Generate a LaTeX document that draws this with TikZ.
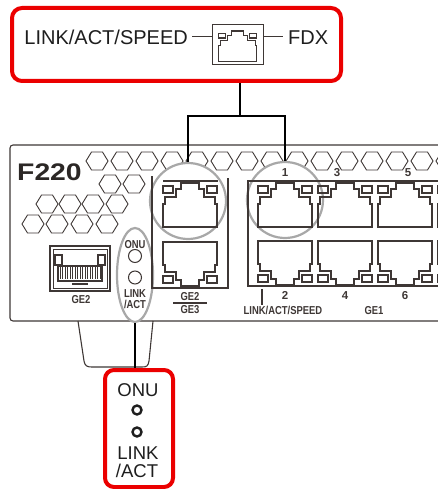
\documentclass[tikz,border=0pt]{standalone}
\usepackage{graphicx}
\usepackage{fontspec}
\setmainfont{Liberation Sans}
\usetikzlibrary{shapes.geometric}
\definecolor{hlred}{RGB}{235,0,0}
\definecolor{devc}{RGB}{62,55,53}
\definecolor{ringc}{RGB}{168,168,168}
\definecolor{txtc}{RGB}{30,30,30}
\newcommand{\narrowtxt}[1]{\scalebox{0.82}[1]{#1}}
\tikzset{
  redbox/.style={draw=hlred,line width=4pt,rounded corners=10pt,fill=white,inner sep=0pt},
  devline/.style={draw=devc,line width=1.1pt},
  conn/.style={draw=black,line width=2pt},
  ring/.style={draw=ringc,line width=2.2pt,fill=white,inner sep=0pt},
  bigtxt/.style={font=\fontsize{20}{24}\selectfont,inner sep=0pt,text=txtc},
  boxtxt/.style={font=\fontsize{18.5}{22}\selectfont,inner sep=0pt,text=txtc},
  lbl/.style={font=\bfseries\fontsize{11.5}{13}\selectfont,inner sep=0pt,text=devc},
  rj/.pic={
    \draw[devline,line join=miter] (19,0)--(37,0)--(37,6)--(42,6)--(42,14)--(53,14)--(53,21)--(55,21)--(55,44)--(1,44)--(1,21)--(3,21)--(3,14)--(14,14)--(14,6)--(19,6)--cycle;
    \draw[devline] (1,3) rectangle (11,10);
    \draw[devline] (45,3) rectangle (55,10);
  },
  hex/.pic={
    \draw[devline,line width=0.9pt] (-11,0)--(-5.5,-9)--(5.5,-9)--(11,0)--(5.5,9)--(-5.5,9)--cycle;
  }
}
\begin{document}
\begin{tikzpicture}[x=1pt,y=-1pt]
\useasboundingbox (0,0) rectangle (438,489);
\begin{scope}
\clip (0,0) rectangle (438,489);
% device body
\draw[devline,rounded corners=3pt] (445,145) -- (10,145) -- (10,321) -- (445,321);
% hexagons
\foreach \x in {97,122,...,447} \pic at (\x,161) {hex};
\foreach \x in {110,134} \pic at (\x,184) {hex};
\foreach \x in {47,70,93,117} \pic at (\x,204) {hex};
\foreach \x in {33,57,82,107} \pic at (\x,224) {hex};
% highlight rings
\node[ring,circle,minimum size=76pt] (ringg) at (188,201) {};
\node[ring,circle,minimum size=76pt] (ringp) at (285,200) {};
\node[ring,ellipse,minimum width=36pt,minimum height=94pt] (ringo) at (135,275) {};
% frames
\draw[devline] (152,176) -- (152,288) -- (228,288) -- (228,178);
\draw[devline] (163,181) -- (218,181);
\draw[devline] (445,181) -- (248,181) -- (248,286) -- (445,286);
% ports
\foreach \x in {257,317,377,437} {
  \pic at (\x,183) {rj};
  \pic[yscale=-1] at (\x,285) {rj};
}
\pic at (162,183) {rj};
\pic[yscale=-1] at (162,286) {rj};
% SFP port
\draw[devc,line width=1.8pt] (50,246) rectangle (110,291);
\draw[devc,line width=0.6pt] (53,249) rectangle (107,288);
\draw[devline] (55,255) rectangle (62,265);
\draw[devline] (98,255) rectangle (105,265);
\draw[devline] (58,266) rectangle (102,281);
\foreach \x in {60,62.5,...,100} \draw[devc,line width=0.7pt] (\x,267) -- (\x,279);
\draw[devline] (72,284) -- (88,284);
% stand
\draw[devline] (78,321) -- (84,361) .. controls (85,366) and (87,367) .. (92,367) -- (142,367) .. controls (147,367) and (148,366) .. (149,361) -- (153,321);
% labels on device
\node[anchor=base west,font=\bfseries\fontsize{24}{24}\selectfont,text=devc!70!black,inner sep=0pt] (model) at (17,180) {\scalebox{1.18}[1]{F220}};
\node[lbl,anchor=base] (n1) at (285,176) {1};
\node[lbl,anchor=base] (n3) at (337,176) {3};
\node[lbl,anchor=base] (n5) at (408,176) {5};
\node[lbl,anchor=base] (n2) at (285,299) {2};
\node[lbl,anchor=base] (n4) at (345,299) {4};
\node[lbl,anchor=base] (n6) at (405,299) {6};
\node[lbl,anchor=base] (las) at (283,314) {\narrowtxt{LINK/ACT/SPEED}};
\coordinate (tickt) at (262,289);
\draw[devline] (tickt) -- (tickt |- las.north);
\node[lbl,anchor=base] (ge1) at (374,314) {\narrowtxt{GE1}};
\node[lbl,anchor=base] (ge2s) at (81,303) {\narrowtxt{GE2}};
\node[lbl,anchor=base] (ge2) at (190,300) {\narrowtxt{GE2}};
\node[lbl,anchor=base] (ge3) at (190,313) {\narrowtxt{GE3}};
\draw[devline] (173,303) -- (207,303);
\node[lbl,anchor=base] (onus) at (135,248) {\narrowtxt{ONU}};
\node[draw=devc,line width=1pt,circle,minimum size=13pt,inner sep=0pt] (ledsa) at (135,256) {};
\node[draw=devc,line width=1pt,circle,minimum size=13pt,inner sep=0pt] (ledsb) at (135,277.5) {};
\node[lbl,anchor=base] (links) at (135,297) {\narrowtxt{LINK}};
\node[lbl,anchor=base] (acts) at (135,308) {\narrowtxt{/ACT}};
% top callout
\node[redbox,minimum width=329pt,minimum height=73pt] (topbox) at (176.5,44.5) {};
\node[bigtxt,anchor=base east] (lasbig) at (188,44.3) {LINK/ACT/SPEED};
\node[draw=devc,line width=1pt,minimum width=51pt,minimum height=40pt,inner sep=0pt] (icon) at (237.5,45) {};
\pic[scale=0.7] at (218,31) {rj};
\node[bigtxt,anchor=base west] (fdx) at (288,44.3) {FDX};
\coordinate (la) at (192,37);
\coordinate (fa) at (283,37);
\draw[devc,line width=1pt] (la) -- (la -| icon.west);
\draw[devc,line width=1pt] (icon.east |- fa) -- (fa);
% bottom callout
\node[redbox,rounded corners=9pt,minimum width=68pt,minimum height=117pt] (botbox) at (139,428.5) {};
\node[boxtxt,anchor=base] (onu) at (138,396.7) {ONU};
\node[draw=txtc,line width=2.4pt,circle,minimum size=9pt,inner sep=0pt] (leda) at (137,410) {};
\node[draw=txtc,line width=2.4pt,circle,minimum size=9pt,inner sep=0pt] (ledb) at (137,432) {};
\node[boxtxt,anchor=base] (link) at (138,459) {LINK};
\node[boxtxt,anchor=base] (act) at (137,477) {/ACT};
% connectors
\coordinate (hub) at (240,116);
\draw[conn] (topbox.south -| hub) -- (hub);
\draw[conn,line join=miter] (ringg.north) -- (ringg.north |- hub) -- (ringp.north |- hub) -- (ringp.north);
\draw[conn] (ringo.south) -- (ringo.south |- botbox.north);
\end{scope}
\end{tikzpicture}
\end{document}
